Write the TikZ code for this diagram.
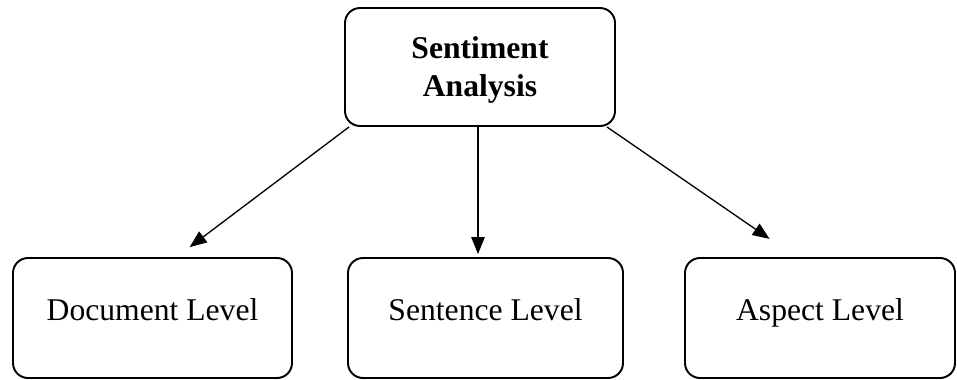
\documentclass[tikz,border=0pt]{standalone}
\usepackage{fontspec}
\setmainfont{Liberation Serif}
\usetikzlibrary{arrows.meta}

\tikzset{
  levelbox/.style={draw, rounded corners=0.3cm, line width=1.1pt, align=center,
    font=\fontsize{18}{21.6}\selectfont, minimum height=2.4cm, text depth=0.35cm},
  levelarrow/.style={-{Triangle[length=0.34cm, width=0.27cm]}, line width=0.75pt}
}

\begin{document}
\begin{tikzpicture}
\useasboundingbox (0,0) rectangle (19.14,7.58);

% Root node
\node[levelbox, minimum width=5.4cm, minimum height=2.36cm, text depth=0pt, font=\fontsize{18}{21.6}\selectfont\bfseries] (sa) at (9.6, 6.24) {Sentiment\\Analysis};

% Level nodes
\node[levelbox, minimum width=5.58cm] (doc) at (3.05, 1.22) {Document Level};
\node[levelbox, minimum width=5.5cm] (sen) at (9.71, 1.22) {Sentence Level};
\node[levelbox, minimum width=5.4cm] (asp) at (16.4, 1.22) {Aspect Level};

% Arrows
\draw[levelarrow, shorten >=0.33cm] ([xshift=0.1cm]sa.south west) -- ([xshift=0.48cm]doc.north);
\draw[levelarrow, shorten >=0.06cm] ([xshift=-0.04cm]sa.south) -- ([xshift=-0.04cm]sa.south |- sen.north);
\draw[levelarrow, shorten >=0.64cm] ([xshift=-0.18cm]sa.south east) -- ([xshift=-0.48cm]asp.north);

\end{tikzpicture}
\end{document}
